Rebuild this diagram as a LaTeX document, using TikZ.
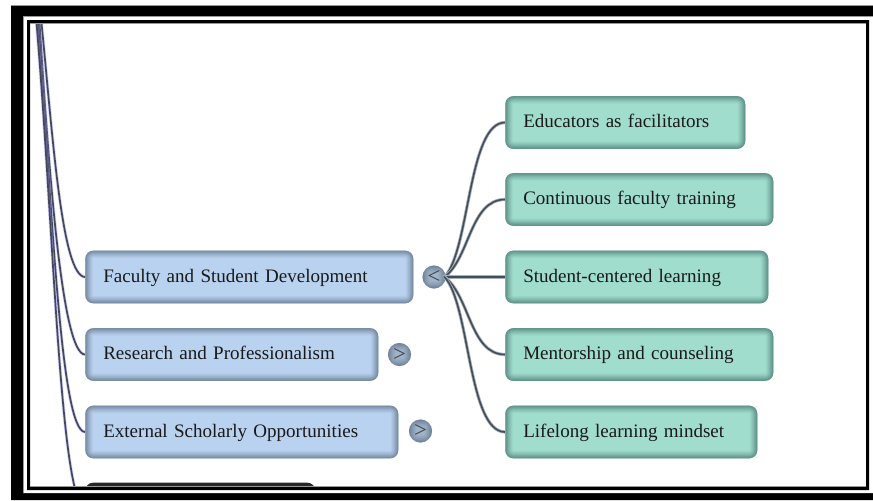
\documentclass[tikz,border=0pt]{standalone}
\usepackage{fontspec}
\setmainfont{Liberation Serif}
\usetikzlibrary{calc}
\definecolor{bluefill}{HTML}{B9D2EF}
\definecolor{blueedge}{HTML}{5A6B7E}
\definecolor{greenfill}{HTML}{A0DDCC}
\definecolor{greenedge}{HTML}{43706B}
\definecolor{ballfill}{HTML}{9FB3CB}
\definecolor{trunkc}{HTML}{454859}
\definecolor{branchc}{HTML}{414E5C}
\tikzset{
  inset/.style={path picture={
    \foreach \w/\o in {15/.06,13/.07,11/.09,9/.11,7/.14,5/.17,3/.18,1.5/.12}{
      \draw[#1,opacity=\o,line width=\w*.75pt,rounded corners=6pt]
        (path picture bounding box.south west) rectangle (path picture bounding box.north east);
    }}},
  boxw/.code={\pgfmathsetmacro\bw{#1*.75}\pgfmathsetmacro\tw{#1*.75-27}%
    \tikzset{minimum width=\bw pt,text width=\tw pt}},
  card/.style={anchor=west,rounded corners=6pt,minimum height=39.5pt,inner xsep=13.5pt,inner ysep=0pt,
    align=left,text height=10.5pt,text depth=3pt,font=\fontsize{14.28pt}{16pt}\selectfont,text=black!90},
  bluebox/.style={card,fill=bluefill,inset=blueedge},
  greenbox/.style={card,fill=greenfill,inset=greenedge},
  darkbox/.style={card,fill=black!85},
  toggle/.style={circle,minimum size=17.25pt,inner sep=0pt,fill=ballfill,inset=blueedge,
    font=\fontsize{17pt}{17pt}\selectfont,text=black!75},
  trunk/.style={trunkc,line width=1.3pt,preaction={draw=blue!40!white,opacity=.4,line width=2.4pt}},
  branch/.style={branchc,line width=1.2pt,preaction={draw=branchc!45!white,line width=2.4pt}}
}
\begin{document}
\begin{tikzpicture}[x=.75pt,y=-.75pt]
\useasboundingbox (0,0) rectangle (873,500);
\fill[white] (0,0) rectangle (873,500);
\coordinate (r1) at (41.5,23);
\coordinate (r2) at (39.5,23);
\coordinate (r3) at (38,23);
\coordinate (r4) at (36.5,23);
\begin{scope}
\clip (30,23) rectangle (866,486);
\node[bluebox,boxw=328] (fac) at (85,277) {Faculty and Student Development};
\node[bluebox,boxw=293] (res) at (85,354.5) {Research and Professionalism};
\node[bluebox,boxw=313] (ext) at (85,432) {External Scholarly Opportunities};
\node[darkbox,boxw=230] (dark) at (85,509) {};
\draw[trunk] (r1) .. controls (53,140) and (62,276) .. (fac.west);
\draw[trunk] (r2) .. controls (50,190) and (63,354) .. (res.west);
\draw[trunk] (r3) .. controls (52,200) and (60,431) .. (ext.west);
\draw[trunk] (r4) .. controls (54,230) and (60,500) .. (dark.west);
\end{scope}
\node[greenbox,boxw=240] (g1) at (505,122.5) {Educators as facilitators};
\node[greenbox,boxw=268] (g2) at (505,199.5) {Continuous faculty training};
\node[greenbox,boxw=263] (g3) at (505,277) {Student-centered learning};
\node[greenbox,boxw=268] (g4) at (505,354.5) {Mentorship and counseling};
\node[greenbox,boxw=252] (g5) at (505,432) {Lifelong learning mindset};
\node[toggle] (t1) at (434,277) {<};
\node[toggle] (t2) at (399.5,354.5) {>};
\node[toggle] (t3) at (420.5,431) {>};
\coordinate (hub) at (444.5,277);
\draw[branch] (hub) .. controls (470,250) and (468,122.5) .. (g1.west);
\draw[branch] (hub) .. controls (470,258) and (470,199.5) .. (g2.west);
\draw[branch] (hub) -- (g3.west);
\draw[branch] (hub) .. controls (470,296) and (470,354.5) .. (g4.west);
\draw[branch] (hub) .. controls (470,304) and (468,431.5) .. (g5.west);
% double picture frame
\fill[black,even odd rule] (11,5) rectangle (873,500) (23,16.5) rectangle (873,493);
\fill[white,even odd rule] (23,16.5) rectangle (873,493) (27,20) rectangle (869,490);
\fill[black,even odd rule] (27,20) rectangle (869,490) (30,23.5) rectangle (866,486);
\draw[black!40,line width=.6pt] (11,5) -- (873,5) (23,493) -- (23,16.5) -- (873,16.5) (30,486) -- (866,486) (30,23.5) -- (866,23.5);
\end{tikzpicture}
\end{document}
